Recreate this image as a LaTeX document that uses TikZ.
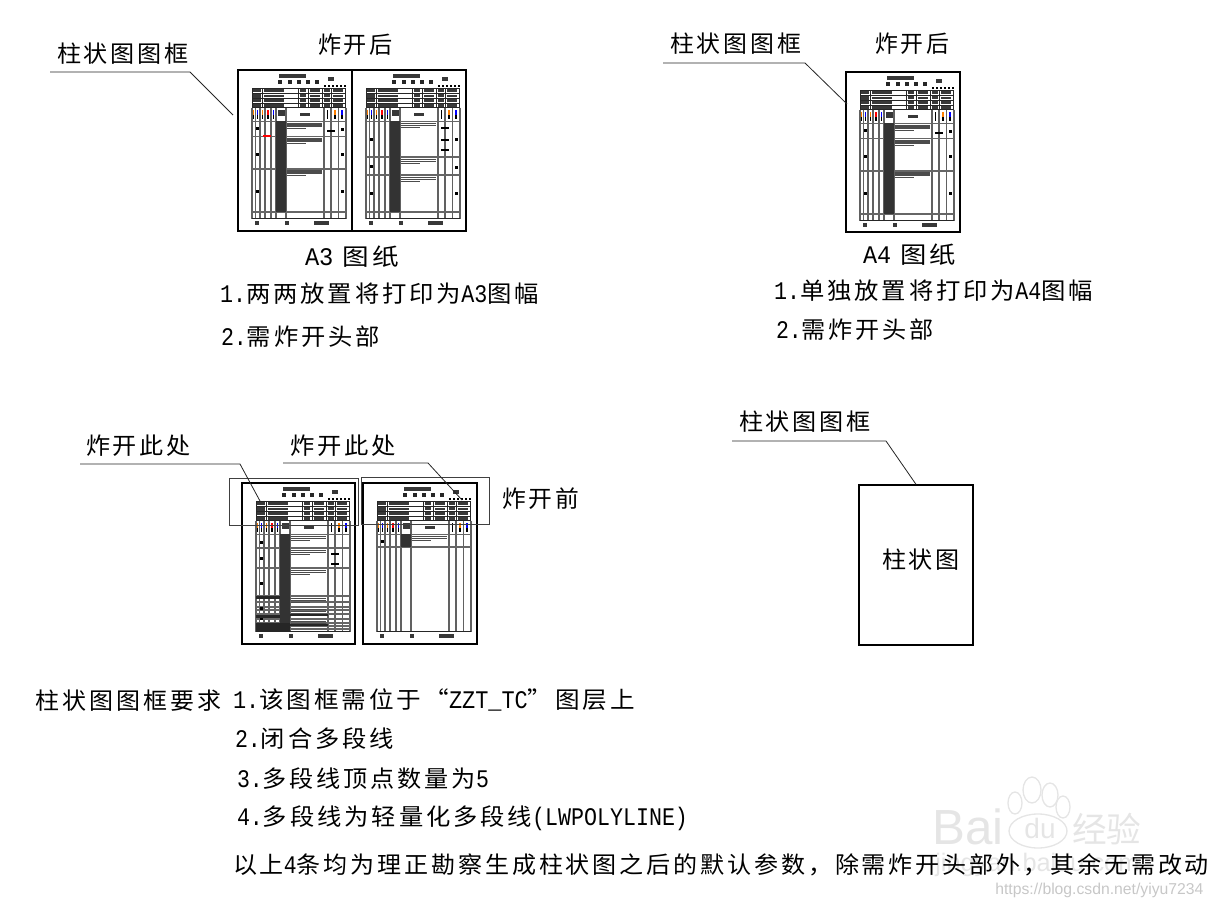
\documentclass[tikz,border=0pt]{standalone}
\usepackage{fontspec}
\usepackage{graphicx}
\setmainfont[LetterSpace=12]{Noto Sans CJK SC}
\newfontfamily\lat{Liberation Mono}
\newfontfamily\wm{Liberation Sans}
\newfontfamily\wmc{Noto Sans CJK SC}
\newcommand\la[1]{\scalebox{0.82}[1]{\lat\fontsize{19pt}{20pt}\selectfont #1}}
\newsavebox\fitbox
\newlength\fitw
% name, x1, x2, y-centre, text
\newcommand\lab[5]{%
  \node[labeltext] (#1) at (#2,#4+8.5) {%
  \sbox\fitbox{\fontsize{17.5pt}{18pt}\selectfont #5}%
  \setlength\fitw{\wd\fitbox}%
  \pgfmathsetmacro\fitf{(#3-#2)*0.75pt/\fitw}%
  \scalebox{\fitf}[1]{\usebox\fitbox}};}
\definecolor{wmgrey}{gray}{0.90}
\newcommand\sheet[7]{% x, y, layer lines, text rows, hatch bottom, extra, name
\begin{scope}[shift={(#1,#2)}]
  \coordinate (#7) at (0,0);
  \fill[blob] (41,4) rectangle (68,7.5);
  \foreach \dx in {42,52,61,70,79} \fill[black!85] (\dx-1.8,9.5) rectangle (\dx+1.8,14);
  \fill[blob] (90,7) rectangle (96,10.5);
  \foreach \dx in {86,90,94,98,102,106} \fill[black] (\dx,15) rectangle (\dx+2,17);
  % header rows
  \foreach \ry in {18,23.3,28,33,37.5} \draw[head line] (14,\ry) -- (108,\ry);
  \foreach \ry in {18.8,24.2,29,34} {
    \fill[blob] (15,\ry) rectangle (23,\ry+3.4);
    \fill[blob] (26,\ry+.4) rectangle (46,\ry+3);
    \fill[blob] (62,\ry+.2) rectangle (68,\ry+3.2);
    \fill[blob] (72,\ry+.4) rectangle (82,\ry+3);
    \fill[blob] (86,\ry+.2) rectangle (92,\ry+3.2);
    \fill[blob] (95,\ry+.4) rectangle (105,\ry+3);
  }
  \foreach \vx in {14,24,60,70,84,93,107} \draw[head line] (\vx,18) -- (\vx,37.5);
  % columns
  \foreach \vx in {14,17.5,22,27,33,38,48,86,93,100.5,108}
    \draw[col line] (\vx,37.5) -- (\vx,148.5);
  \draw[body line] (14,51.3) -- (108,51.3);
  \draw[head line] (14,148.5) -- (108,148.5);
  \foreach \vx/\cc in {15.6/orange,19.8/blue,24.5/orange,30/red,35.5/blue,89.5/black,97/orange,104/blue} {
    \draw[\cc,line width=1pt] (\vx,40) -- (\vx,45);
    \draw[black,line width=1pt] (\vx,45) -- (\vx,49);
  }
  \fill[blob] (39.5,40) rectangle (46.5,46);
  \fill[blob] (62,42.5) rectangle (72,46);
  % body
  \foreach \ly in {#3} \draw[body line] (14,\ly) -- (108,\ly);
  \fill[black!80] (38,51.3) rectangle (48,#5);
  \foreach \ty in {#4} {
    \draw[textrow] (49,\ty+1.3) -- (84,\ty+1.3);
    \draw[textrow] (49,\ty+3.5) -- (84,\ty+3.5);
    \draw[textrow] (49,\ty+5.7) -- (68,\ty+5.7);
  }
  #6
  % footer
  \fill[blob] (17,150.5) rectangle (21,154.5);
  \fill[blob] (47,150.5) rectangle (51,154.5);
  \fill[blob] (76,150.5) rectangle (91,154.5);
\end{scope}}
\newcommand\mk[2]{\fill[black] (#1,#2) rectangle (#1+3.2,#2+3);}
\tikzset{
  labeltext/.style={anchor=base west,inner sep=0pt,outer sep=0pt,text=black},
  blob/.style={fill=black!78},
  head line/.style={draw=black!85,line width=.75pt},
  body line/.style={draw=black!60,line width=.9pt},
  col line/.style={draw=black!62,line width=.8pt},
  textrow/.style={draw=black!70,line width=1.05pt},
  framebox/.style={draw=black,line width=1.5pt},
  leader/.style={draw=black!85,line width=.6pt},
  overbox/.style={draw=black!75,line width=.6pt},
}
\begin{document}
\begin{tikzpicture}[x=0.75pt,y=-0.75pt]
\useasboundingbox (0,0) rectangle (1215,907);
% watermark
\begin{scope}[wmgrey]
  \foreach \px/\py/\rx/\ry in {1032/790/9/13,1050/795/8/12,1015/803/7/11,1063/807/7/11}
    \draw[line width=1pt] (\px,\py) ellipse [x radius=\rx,y radius=\ry];
  \draw[line width=1pt] (1038,831) ellipse [x radius=29,y radius=17];
  \node[inner sep=0pt,anchor=base west,text=wmgrey,font=\wm\fontsize{37pt}{38pt}\selectfont] (wmbai) at (932,844) {Bai};
  \node[inner sep=0pt,anchor=base,text=wmgrey,font=\wm\fontsize{21pt}{22pt}\selectfont] (wmdu) at (1040,838) {du};
  \node[inner sep=0pt,anchor=base west,text=wmgrey,font=\wmc\fontsize{26pt}{27pt}\selectfont] (wmjy) at (1072,842) {经验};
  \node[inner sep=0pt,anchor=base west,text=wmgrey,font=\wm\fontsize{19pt}{20pt}\selectfont] (wmurl) at (935,871) {jingyan.baidu.com};
  \node[inner sep=0pt,anchor=base west,text=black!22,font=\wm\fontsize{11.8pt}{12pt}\selectfont] (wmcsdn) at (995,894) {https://blog.csdn.net/yiyu7234};
\end{scope}

% A3 sheets
\sheet{238}{70}{66.7,99,142}{52.5,67.5,99.5}{142}{\mk{18}{57}\mk{18}{83}\mk{18}{120}\mk{103}{58}\mk{103}{83}\mk{103}{120}\draw[black,line width=1pt](89,61)--(97,61);\draw[red,line width=.8pt](25,66)--(33,66);}{sA}
\sheet{352}{70}{87,105,142}{52,88,106}{142}{\mk{18}{68}\mk{18}{95}\mk{18}{122}\mk{103}{68}\mk{103}{96}\mk{103}{122}\draw[black,line width=1pt](89,58)--(97,58);\draw[black,line width=1pt](89,70)--(97,70);\draw[black,line width=1pt](89,80)--(97,80);}{sB}
\draw[framebox] (238,70) rectangle (352,231);
\draw[framebox] (352,70) rectangle (466,231);
% A4 sheet
\sheet{846}{72}{66.7,99,142}{52.5,67.5,99.5}{142}{\mk{18}{57}\mk{18}{83}\mk{18}{120}\mk{103}{58}\mk{103}{83}\mk{103}{120}\draw[black,line width=1pt](89,61)--(97,61);}{sC}
\draw[framebox] (846,72) rectangle (960,232);
% lower sheets
\sheet{242}{483}{65,85,113,119,124,127,131,136,140,143,146}{52,66,86,114,125,137}{148}{\mk{18}{58}\mk{18}{74}\mk{18}{99}\mk{18}{124}\mk{18}{134}\fill[black!85](14,113)rectangle(38,116);\fill[black!85](14,132)rectangle(38,135);\fill[black!85](14,140)rectangle(48,148.5);\fill[black!85](48,131)rectangle(86,133);\fill[black!85](48,141)rectangle(86,143);\draw[black,line width=1pt](89,71)--(97,71);\draw[black,line width=1pt](89,81)--(97,81);}{sD}
\sheet{363}{483}{64}{52}{64}{\mk{18}{57}}{sE}
\draw[framebox] (242,483) rectangle (355,644);
\draw[framebox] (363,483) rectangle (477,644);
\draw[overbox] (229,478) rectangle (358,525);
\draw[overbox] (361,477) rectangle (489,524);
% plain frame
\node[draw=black,line width=1pt,minimum width=114*0.75pt,minimum height=160*0.75pt,inner sep=0pt] (plainbox) at (916,565) {};

% labels
\lab{kA}{57}{189}{54}{柱状图图框}
\lab{zA}{318}{393}{45}{炸开后}
\lab{aA}{305}{399}{257}{\la{A3} 图纸}
\lab{bA}{220}{539}{294}{\la{1.}两两放置将打印为\la{A3}图幅}
\lab{cA}{221}{380}{337}{\la{2.}需炸开头部}
\lab{kB}{670}{801}{44}{柱状图图框}
\lab{zB}{875}{949}{44}{炸开后}
\lab{aB}{863}{956}{255}{\la{A4} 图纸}
\lab{bB}{774}{1093}{291}{\la{1.}单独放置将打印为\la{A4}图幅}
\lab{cB}{776}{934}{330}{\la{2.}需炸开头部}
\lab{dA}{86}{191}{446}{炸开此处}
\lab{dB}{290}{396}{446}{炸开此处}
\lab{qA}{502}{579}{499}{炸开前}
\lab{kC}{739}{871}{422}{柱状图图框}
\lab{zC}{882}{960}{560}{柱状图}
\lab{rA}{36}{221}{701}{柱状图图框要求}
\lab{rB}{233}{635}{700}{\la{1.}该图框需位于“\la{ZZT\_TC}”图层上}
\lab{rC}{235}{394}{739}{\la{2.}闭合多段线}
\lab{rD}{237}{489}{779}{\la{3.}多段线顶点数量为\la{5}}
\lab{rE}{237}{688}{817}{\la{4.}多段线为轻量化多段线\la{(LWPOLYLINE)}}
\lab{rF}{233}{1209}{865}{以上\la{4}条均为理正勘察生成柱状图之后的默认参数，除需炸开头部外，其余无需改动}

% leaders
\coordinate (lA1) at (50,72); \coordinate (lA2) at (190,72); \coordinate (lA3) at (233,115);
\draw[leader] (lA1) -- (lA2) -- (lA3);
\coordinate (lB1) at (663,63); \coordinate (lB2) at (805,63); \coordinate (lB3) at (847,104);
\draw[leader] (lB1) -- (lB2) -- (lB3);
\coordinate (lC1) at (80,464); \coordinate (lC2) at (240,464); \coordinate (lC3) at (260,501);
\draw[leader] (lC1) -- (lC2) -- (lC3);
\coordinate (lD1) at (283,463); \coordinate (lD2) at (428,463); \coordinate (lD3) at (462,500);
\draw[leader] (lD1) -- (lD2) -- (lD3);
\coordinate (lE1) at (732,441); \coordinate (lE2) at (886,441);
\draw[leader] (lE1) -- (lE2) -- (plainbox.north);
\end{tikzpicture}
\end{document}
